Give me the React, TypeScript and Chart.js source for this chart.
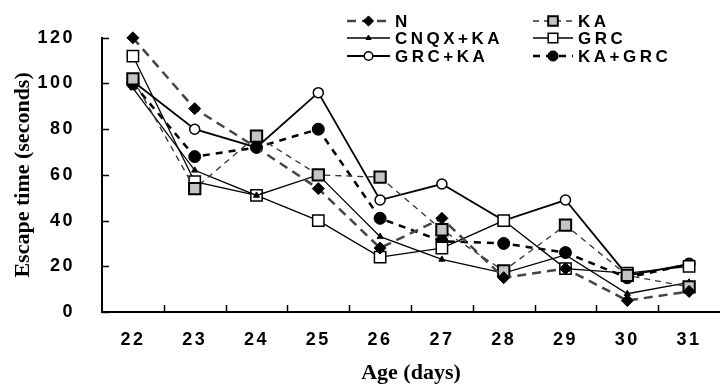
import React, { useEffect, useRef } from 'react';
import { Chart, registerables } from 'chart.js';

Chart.register(...registerables);

const ages = ['22', '23', '24', '25', '26', '27', '28', '29', '30', '31'];
const yTickValues = [0, 20, 40, 60, 80, 100, 120];

const nVals = [120, 89, 72, 54, 28, 41, 15, 19, 5, 9];
const kaVals = [102, 54, 77, 60, 59, 36, 18, 38, 16, 11];
const cnqxKaVals = [98, 62, 51, 60, 33, 23, 17, 25, 8, 13];
const grcVals = [112, 57, 51, 40, 24, 28, 40, 19, 17, 20];
const grcKaVals = [101, 80, 72, 96, 49, 56, 40, 49, 16, 21];
const kaGrcVals = [100, 68, 72, 80, 41, 31, 30, 26, 15, 21];

const legendSlots = [
  { x: 347, w: 43, y: 21, tx: 395 },
  { x: 533, w: 40, y: 21, tx: 578 },
  { x: 347, w: 43, y: 38, tx: 395 },
  { x: 533, w: 40, y: 38, tx: 578 },
  { x: 347, w: 43, y: 56, tx: 395 },
  { x: 533, w: 40, y: 56, tx: 578 },
];

function drawMarker(ctx: CanvasRenderingContext2D, style: string, x: number, y: number, r: number, fill: string, stroke: string, lw: number) {
  ctx.save();
  ctx.setLineDash([]);
  ctx.fillStyle = fill;
  ctx.strokeStyle = stroke;
  ctx.lineWidth = lw;
  ctx.beginPath();
  if (style === 'rectRot') {
    ctx.moveTo(x, y - r);
    ctx.lineTo(x + r, y);
    ctx.lineTo(x, y + r);
    ctx.lineTo(x - r, y);
    ctx.closePath();
  } else if (style === 'rect') {
    const s = r * Math.SQRT1_2;
    ctx.rect(x - s, y - s, 2 * s, 2 * s);
  } else if (style === 'triangle') {
    ctx.moveTo(x, y - r);
    ctx.lineTo(x + r * 0.866, y + r * 0.5);
    ctx.lineTo(x - r * 0.866, y + r * 0.5);
    ctx.closePath();
  } else {
    ctx.arc(x, y, r, 0, Math.PI * 2);
  }
  ctx.fill();
  if (lw > 0) ctx.stroke();
  ctx.restore();
}

const decorPlugin = {
  id: 'decor',
  beforeDraw(chart: any) {
    chart.ctx.letterSpacing = '0px';
  },
  afterDatasetsDraw(chart: any) {
    const ctx = chart.ctx as CanvasRenderingContext2D;
    const xs = chart.scales.x;
    const ys = chart.scales.y;
    ctx.save();
    ctx.strokeStyle = '#000';
    ctx.lineWidth = 1.5;
    ctx.setLineDash([]);
    for (const v of yTickValues) {
      const py = Math.round(ys.getPixelForValue(v)) + 0.5;
      ctx.beginPath();
      ctx.moveTo(xs.left, py);
      ctx.lineTo(xs.left + 7, py);
      ctx.stroke();
    }
    for (let i = 0; i < ages.length - 1; i++) {
      const px = Math.round((xs.getPixelForValue(i) + xs.getPixelForValue(i + 1)) / 2) + 0.5;
      ctx.beginPath();
      ctx.moveTo(px, ys.bottom);
      ctx.lineTo(px, ys.bottom - 7);
      ctx.stroke();
    }
    ctx.restore();
    ctx.letterSpacing = '2.5px';
  },
  afterDraw(chart: any) {
    const ctx = chart.ctx as CanvasRenderingContext2D;
    ctx.save();
    ctx.letterSpacing = '3.5px';
    ctx.font = 'bold 17px "Liberation Sans", Arial, sans-serif';
    ctx.fillStyle = '#000';
    ctx.textBaseline = 'middle';
    ctx.textAlign = 'left';
    chart.data.datasets.forEach((ds: any, i: number) => {
      const s = legendSlots[i];
      if (!s) return;
      ctx.save();
      ctx.strokeStyle = ds.borderColor;
      ctx.lineWidth = ds.borderWidth;
      ctx.setLineDash(ds.borderDash || []);
      ctx.beginPath();
      ctx.moveTo(s.x, s.y);
      ctx.lineTo(s.x + s.w, s.y);
      ctx.stroke();
      ctx.restore();
      drawMarker(ctx, ds.pointStyle, s.x + s.w / 2, s.y, ds.pointRadius * 0.85, ds.pointBackgroundColor, ds.pointBorderColor, ds.pointBorderWidth);
      ctx.fillText(ds.label, s.tx, s.y + 1);
    });
    ctx.restore();
  },
};

function App() {
  const ref = useRef<HTMLCanvasElement | null>(null);
  useEffect(() => {
    if (!ref.current) return;
    const base = { fill: false, tension: 0, clip: false as any };
    const chart = new Chart(ref.current, {
      type: 'line',
      data: {
        labels: ages,
        datasets: [
          {
            ...base,
            label: 'N',
            data: nVals,
            borderColor: '#444',
            borderWidth: 2.5,
            borderDash: [9, 6],
            pointStyle: 'rectRot',
            pointRadius: 6,
            pointBackgroundColor: '#000',
            pointBorderColor: '#000',
            pointBorderWidth: 1,
          },
          {
            ...base,
            label: 'KA',
            data: kaVals,
            borderColor: '#333',
            borderWidth: 1.3,
            borderDash: [6, 5],
            pointStyle: 'rect',
            pointRadius: 8,
            pointBackgroundColor: '#c4c4c4',
            pointBorderColor: '#000',
            pointBorderWidth: 2,
          },
          {
            ...base,
            label: 'CNQX+KA',
            data: cnqxKaVals,
            borderColor: '#000',
            borderWidth: 1.3,
            borderDash: [],
            pointStyle: 'triangle',
            pointRadius: 3.5,
            pointBackgroundColor: '#000',
            pointBorderColor: '#000',
            pointBorderWidth: 1,
          },
          {
            ...base,
            label: 'GRC',
            data: grcVals,
            borderColor: '#000',
            borderWidth: 1.3,
            borderDash: [],
            pointStyle: 'rect',
            pointRadius: 8,
            pointBackgroundColor: '#fff',
            pointBorderColor: '#000',
            pointBorderWidth: 1.5,
          },
          {
            ...base,
            label: 'GRC+KA',
            data: grcKaVals,
            borderColor: '#000',
            borderWidth: 1.8,
            borderDash: [],
            pointStyle: 'circle',
            pointRadius: 5,
            pointBackgroundColor: '#fff',
            pointBorderColor: '#000',
            pointBorderWidth: 1.5,
          },
          {
            ...base,
            label: 'KA+GRC',
            data: kaGrcVals,
            borderColor: '#000',
            borderWidth: 2.5,
            borderDash: [7, 6],
            pointStyle: 'circle',
            pointRadius: 6,
            pointBackgroundColor: '#000',
            pointBorderColor: '#000',
            pointBorderWidth: 1,
          },
        ],
      },
      options: {
        animation: false,
        responsive: false,
        layout: { padding: { top: 18, right: 6, bottom: 0, left: 0 } },
        plugins: { legend: { display: false }, tooltip: { enabled: false } },
        scales: {
          x: {
            offset: true,
            grid: { display: false, drawTicks: false },
            border: { display: true, color: '#000', width: 2 },
            ticks: {
              z: 1,
              color: '#000',
              padding: 17,
              maxRotation: 0,
              autoSkip: false,
              font: { family: '"Liberation Sans", Arial, sans-serif', weight: 'bold', size: 18 },
            },
            title: {
              display: true,
              text: 'Age (days)',
              color: '#000',
              padding: { top: 0, bottom: 0 },
              font: { family: '"Liberation Serif", "Times New Roman", serif', weight: 'bold', size: 22 },
            },
            afterFit: (s: any) => {
              s.height = 75;
            },
          },
          y: {
            min: 0,
            max: 120,
            grid: { display: false, drawTicks: false },
            border: { display: true, color: '#000', width: 2 },
            ticks: {
              z: 1,
              stepSize: 20,
              color: '#000',
              padding: 27,
              font: { family: '"Liberation Sans", Arial, sans-serif', weight: 'bold', size: 18 },
            },
            title: {
              display: true,
              text: 'Escape time (seconds)',
              color: '#000',
              padding: { top: 10, bottom: 0 },
              font: { family: '"Liberation Serif", "Times New Roman", serif', weight: 'bold', size: 22 },
            },
            afterFit: (s: any) => {
              s.width = 102;
            },
          },
        },
      } as any,
      plugins: [decorPlugin],
    });
    return () => chart.destroy();
  }, []);
  return (
    <div style={{ position: 'fixed', left: 0, top: 0, width: 720, height: 387, overflow: 'hidden', background: '#fff' }}>
      <canvas ref={ref} width={730} height={387} style={{ width: 730, height: 387, display: 'block' }} />
    </div>
  );
}

export default App;
